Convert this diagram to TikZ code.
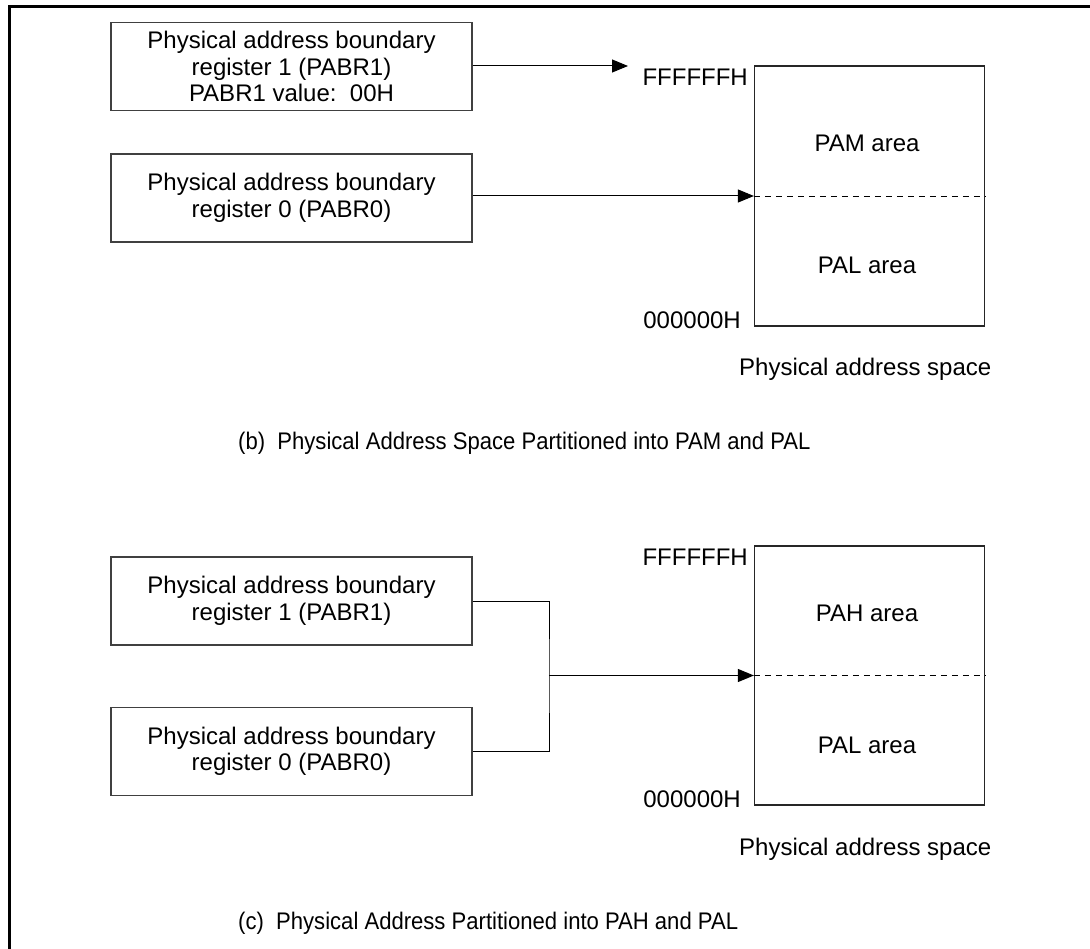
\documentclass[tikz,border=0pt]{standalone}
\usepackage{fontspec}
\setmainfont{Liberation Sans}
\usetikzlibrary{arrows.meta}
\begin{document}
\begin{tikzpicture}[x=1pt,y=-1pt,
  every node/.style={font=\fontsize{24}{25}\selectfont, inner sep=0pt},
  regbox/.style={draw=black!75, line width=1.4pt, minimum width=361pt, minimum height=88pt, align=center, font=\fontsize{24}{26.5}\selectfont},
  spacebox/.style={draw=black!85, line width=1.2pt, minimum width=230pt, minimum height=259pt},
  conn/.style={draw=black, line width=1pt},
  arr/.style={conn, -{Triangle[length=16pt,width=13pt]}},
  divider/.style={draw=black, line width=0.9pt, dash pattern=on 6pt off 5pt},
  caption/.style={anchor=west}]
\useasboundingbox (0,0) rectangle (1090,949);
% frame
\draw[line width=3.5pt] (9.5,949) -- (9.5,6.5) -- (1090,6.5);

% ---------- (b) ----------
\node[regbox] (b1) at (291.5,66.5) {Physical address boundary\\register 1 (PABR1)\\PABR1 value:\ \ 00H};
\node[regbox] (b0) at (291.5,198) {Physical address boundary\\register 0 (PABR0)};
\node[spacebox, minimum height=260pt] (sb) at (869.5,196) {};
\draw[divider] (sb.west) -- (sb.east);
\coordinate (tip1) at (628,66);
\draw[arr] (b1.east |- tip1) -- (tip1);
\draw[arr] (b0.east |- sb.west) -- (sb.west);
\node[anchor=east] (fb) at (748,77) {FFFFFFH};
\node[anchor=east] (zb) at (741,320) {000000H};
\node (pam) at (867,143) {PAM area};
\node (palb) at (867,265) {PAL area};
\node[anchor=west] (psb) at (739,369) {Physical address space};
\node[caption] (tb) at (238,443) {\scalebox{0.92}[1]{(b)\ \ Physical Address Space Partitioned into PAM and PAL}};

% ---------- (c) ----------
\node[regbox] (c1) at (291.5,601) {Physical address boundary\\register 1 (PABR1)};
\node[regbox] (c0) at (291.5,751.5) {Physical address boundary\\register 0 (PABR0)};
\node[spacebox] (sc) at (869.5,675.5) {};
\draw[divider] (sc.west) -- (sc.east);
\coordinate (brk) at (549,675.5);
\draw[conn] (c1.east) -| (brk) |- (c0.east);
\draw[arr] (brk) -- (sc.west);
\node[anchor=east] (fc) at (748,557) {FFFFFFH};
\node[anchor=east] (zc) at (741,799) {000000H};
\node (pah) at (867,613) {PAH area};
\node (palc) at (867,745) {PAL area};
\node[anchor=west] (psc) at (739,849) {Physical address space};
\node[caption] (tc) at (238,923) {\scalebox{0.92}[1]{(c)\ \ Physical Address Partitioned into PAH and PAL}};
\end{tikzpicture}
\end{document}
